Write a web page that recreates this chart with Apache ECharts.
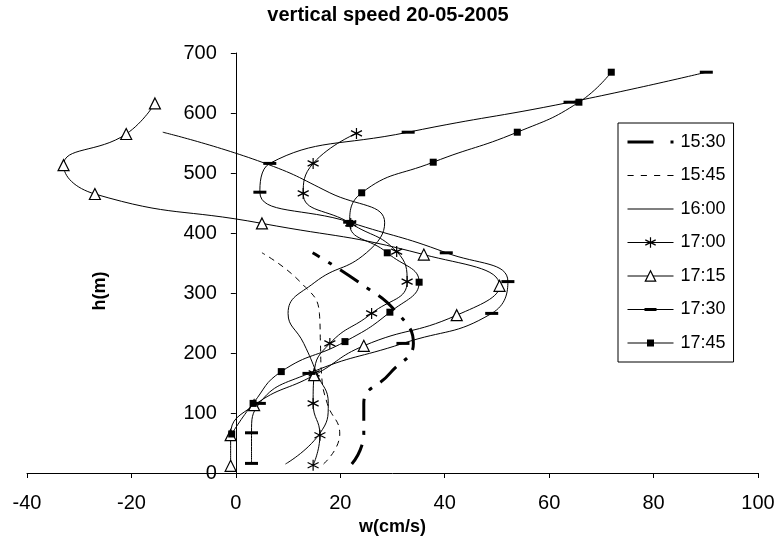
<!DOCTYPE html>
<html>
<head>
<meta charset="utf-8">
<script src="https://cdn.jsdelivr.net/npm/echarts/dist/echarts.min.js"></script>
<style>
  html, body { margin: 0; padding: 0; background: #ffffff; }
  #chart { width: 776px; height: 538px; }
</style>
</head>
<body>
<div id="chart"></div>
<script>
// Vertical velocity profiles, 20-05-2005: w (cm/s) against height h (m)
const titleText = 'vertical speed 20-05-2005';
const seriesNames = ['15:30', '15:45', '16:00', '17:00', '17:15', '17:30', '17:45'];
const xTicks = [-40, -20, 0, 20, 40, 60, 80, 100];
const yTicks = [0, 100, 200, 300, 400, 500, 600, 700];

const h1530 = [15, 65, 116, 166, 216, 266, 317, 367];
const w1530 = [22.2, 24.5, 24.5, 29.5, 34, 31, 23.7, 14.7];

const h1545 = [15, 65, 116, 166, 216, 266, 317, 367];
const w1545 = [16.8, 19.9, 17.5, 16.4, 16.2, 16, 12.5, 5];

const h1600 = [15, 65, 116, 166, 216, 266, 317, 367, 417, 467, 518, 568];
const w1600 = [9.5, 16, 17.7, 15.5, 13, 10, 15, 25, 28.5, 18, 5, -14];

const h1700 = [13, 63, 116, 166, 216, 266, 319, 369, 416, 466, 516, 566];
const w1700 = [14.8, 16.1, 14.8, 15, 18, 26, 32.8, 30.8, 22, 12.9, 14.8, 23.1];

const h1715 = [12, 63, 113, 163, 212, 263, 312, 364, 416, 465, 513, 565, 616];
const w1715 = [-1, -1, 3.5, 15, 24.5, 42.3, 50.5, 36, 5, -27, -33, -21, -15.5];

const h1730 = [16, 67, 116, 166, 216, 266, 319, 367, 418, 468, 516, 568, 618, 668];
const w1730 = [3, 3, 4.5, 14, 32, 49, 52.1, 40.3, 21.8, 4.6, 6.5, 33, 64, 90.1];

const h1745 = [65, 116, 169, 219, 268, 318, 367, 416, 467, 518, 568, 618, 668];
const w1745 = [-0.8, 3.3, 8.7, 20.9, 29.5, 35.1, 29, 21.8, 24.1, 37.8, 53.9, 65.7, 71.9];

const pairs = (w, h) => w.map((v, i) => [v, h[i]]);

const FONT = '"Liberation Sans", Arial, sans-serif';
const INK = '#000000';

// plot frame (px) and the spot where the h axis crosses w = 0
const GRID = { left: 27, right: 18, top: 53, bottom: 65 };
const X_MIN = -40, X_MAX = 100;
const plotWidth = 776 - GRID.left - GRID.right;
const zeroShift = (0 - X_MIN) / (X_MAX - X_MIN) * plotWidth;

// asterisk marker: vertical stroke plus two diagonals
const starPath = 'path://M5,0L5,10M0.7,2.5L9.3,7.5M9.3,2.5L0.7,7.5';

// legend keys drawn as filled shapes (line sample + marker)
const legendIcons = {
  '15:30': 'path://M0,0h26v3h-26zM43,0h3v3h-3z',
  '15:45': 'path://M0,0h6v1h-6zM13,0h6v1h-6zM26,0h6v1h-6zM39,0h6v1h-6z',
  '16:00': 'path://M0,0h46v1.2h-46z',
  '17:30': 'path://M0,0.9h46v1.2h-46zM17,0h12v3h-12z',
  '17:45': 'path://M0,2.9h46v1.2h-46zM19.5,0h7v7h-7z'
};

function legendItem(name) {
  if (legendIcons[name]) {
    return { name: name, icon: legendIcons[name], itemStyle: { borderWidth: 0 } };
  }
  return { name: name, itemStyle: { borderWidth: 1.2 } };
}

function lineSeries(name, data, extra) {
  return Object.assign({
    name: name,
    type: 'line',
    data: data,
    smooth: 0.5,
    symbol: 'none',
    lineStyle: { color: INK, width: 1 },
    itemStyle: { color: INK },
    emphasis: { disabled: true },
    animation: false,
    z: 2
  }, extra || {});
}

const chart = echarts.init(document.getElementById('chart'), null, { renderer: 'canvas' });

chart.setOption({
  backgroundColor: '#ffffff',
  animation: false,
  title: {
    text: titleText,
    left: 'center',
    top: 0,
    textStyle: { fontFamily: FONT, fontSize: 20, fontWeight: 'bold', color: INK }
  },
  grid: Object.assign({ containLabel: false, outerBoundsMode: 'none' }, GRID),
  legend: {
    orient: 'vertical',
    left: 618,
    top: 123,
    padding: [10, 8, 10, 9],
    itemWidth: 46,
    itemHeight: 13,
    itemGap: 15.5,
    symbolKeepAspect: true,
    borderColor: INK,
    borderWidth: 1,
    backgroundColor: '#ffffff',
    lineStyle: { width: 1 },
    data: seriesNames.map(legendItem),
    textStyle: { fontFamily: FONT, fontSize: 18, color: INK, padding: [0, 0, 0, 2] },
    selectedMode: false
  },
  xAxis: {
    type: 'value',
    min: X_MIN,
    max: X_MAX,
    interval: 20,
    name: 'w(cm/s)',
    nameLocation: 'middle',
    nameGap: 43,
    nameTextStyle: { fontFamily: FONT, fontSize: 18, fontWeight: 'bold', color: INK },
    axisLine: { onZero: false, lineStyle: { color: INK, width: 1 } },
    axisTick: { show: true, length: 5, lineStyle: { color: INK } },
    axisLabel: { fontFamily: FONT, fontSize: 20, color: INK, margin: 20,
                 formatter: v => (xTicks.indexOf(v) >= 0 ? String(v) : '') },
    splitLine: { show: false }
  },
  yAxis: {
    type: 'value',
    min: 0,
    max: 700,
    interval: 100,
    name: 'h(m)',
    nameLocation: 'middle',
    nameRotate: 90,
    // labels and name are laid out from the grid edge, so pull them over to the w = 0 line
    nameGap: -82,
    nameTextStyle: { fontFamily: FONT, fontSize: 18, fontWeight: 'bold', color: INK,
                     padding: [0, 56, 0, 0] },
    axisLine: { onZero: true, lineStyle: { color: INK, width: 1 } },
    axisTick: { show: true, length: 5, lineStyle: { color: INK } },
    axisLabel: { fontFamily: FONT, fontSize: 20, color: INK, margin: 19 - zeroShift,
                 formatter: v => (yTicks.indexOf(v) >= 0 ? String(v) : '') },
    splitLine: { show: false }
  },
  series: [
    lineSeries('15:30', pairs(w1530, h1530), {
      lineStyle: { color: INK, width: 3, type: [22, 10, 4, 10] }
    }),
    lineSeries('15:45', pairs(w1545, h1545), {
      lineStyle: { color: INK, width: 1, type: [6, 5] }
    }),
    lineSeries('16:00', pairs(w1600, h1600)),
    lineSeries('17:00', pairs(w1700, h1700), {
      symbol: starPath, symbolSize: 11,
      itemStyle: { color: 'none', borderColor: INK, borderWidth: 1.2 }
    }),
    lineSeries('17:15', pairs(w1715, h1715), {
      symbol: 'triangle', symbolSize: 11,
      itemStyle: { color: '#ffffff', borderColor: INK, borderWidth: 1.2 }
    }),
    lineSeries('17:30', pairs(w1730, h1730), {
      symbol: 'rect', symbolSize: [13, 3],
      itemStyle: { color: INK }
    }),
    lineSeries('17:45', pairs(w1745, h1745), {
      symbol: 'rect', symbolSize: 7,
      itemStyle: { color: INK }
    })
  ]
});
</script>
</body>
</html>
